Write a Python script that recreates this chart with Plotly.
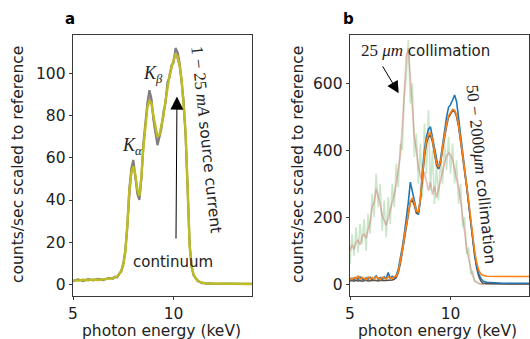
import plotly.graph_objects as go

# ---------------- data: panel a (source current series) ----------------
E_A = [5.0, 5.25, 5.5, 5.75, 6.0, 6.25, 6.5, 6.75, 7.0,
       7.1, 7.2, 7.3, 7.4, 7.5, 7.6, 7.7, 7.8, 7.9, 8.0,
       8.1, 8.2, 8.3, 8.4, 8.5, 8.6, 8.7, 8.8, 8.9, 9.0,
       9.1, 9.2, 9.3, 9.4, 9.5, 9.6, 9.7, 9.8, 9.9, 10.0,
       10.1, 10.2, 10.3, 10.4, 10.5, 10.6, 10.7, 10.8, 10.9, 11.0,
       11.1, 11.2, 11.3, 11.4, 11.5, 11.6, 11.8, 12.2, 12.6, 13.0, 13.4, 13.9]

A_PINK = [1.8, 2.1, 1.9, 2.3, 2.0, 2.4, 2.2, 2.8, 3.1,
          3.4, 3.7, 4.6, 6.8, 9.5, 15.5, 28, 43, 52, 57,
          51, 44, 41, 50, 64, 75, 85, 89, 85, 79,
          72, 68, 70, 76, 79, 88, 95, 100, 102, 107,
          110, 107, 103, 96, 85, 71, 47, 19, 8, 4.4,
          2.9, 1.7, 1.1, 0.8, 0.6, 0.5, 0.4, 0.3, 0.3, 0.3, 0.2, 0.2]

A_GRAY = [1.5, 2.4, 1.6, 2.5, 1.9, 2.6, 2.0, 3.0, 2.7,
          3.6, 3.4, 5.2, 6.0, 10, 16, 27, 45, 55, 59,
          50, 43, 40, 50, 67, 78, 86, 92, 88, 78,
          71, 66, 70, 74, 82, 86, 96, 98, 104, 105,
          112, 110, 105, 95, 87, 70, 47, 19, 8.5, 4.2,
          3.0, 1.6, 1.3, 0.6, 0.7, 0.4, 0.5, 0.2, 0.4, 0.2, 0.3, 0.2]

A_OLIVE = [2.0, 1.8, 2.2, 2.0, 2.3, 2.1, 2.4, 2.6, 3.0,
           3.3, 3.8, 4.8, 6.5, 9, 15, 28, 44, 53, 56,
           52, 45, 42, 51, 65, 76, 84, 87, 86, 80,
           74, 70, 71, 75, 80, 87, 94, 99, 103, 106,
           109, 108, 104, 97, 86, 72, 46, 18, 8, 4.5,
           2.8, 1.8, 1.2, 0.8, 0.6, 0.5, 0.4, 0.3, 0.3, 0.2, 0.2, 0.2]

# ---------------- data: panel b (collimation series) ----------------
E_B = [5.0, 5.1, 5.2, 5.3, 5.4, 5.5, 5.6, 5.7, 5.8, 5.9,
       6.0, 6.1, 6.2, 6.3, 6.4, 6.5, 6.6, 6.7, 6.8, 6.9,
       7.0, 7.1, 7.2, 7.3, 7.4, 7.5, 7.6, 7.7, 7.8, 7.9,
       8.0, 8.1, 8.2, 8.3, 8.4, 8.5, 8.6, 8.7, 8.8, 8.9,
       9.0, 9.1, 9.2, 9.3, 9.4, 9.5, 9.6, 9.7, 9.8, 9.9,
       10.0, 10.1, 10.2, 10.3, 10.4, 10.5, 10.6, 10.7, 10.8, 10.9,
       11.0, 11.1, 11.2, 11.3, 11.4, 11.5, 11.6,
       11.8, 12.2, 12.6, 13.0, 13.4, 13.9]

B_GREEN_25 = [60, 150, 85, 170, 95, 180, 120, 195, 100, 210,
              150, 270, 200, 330, 230, 300, 160, 250, 140, 260,
              180, 300, 230, 360, 290, 420, 400, 560, 620, 730,
              540, 600, 380, 450, 300, 420, 260, 480, 330, 520,
              280, 400, 240, 360, 250, 380, 300, 420, 340, 440,
              330, 420, 300, 370, 240, 300, 170, 200, 90, 110,
              30, 40, 8, 6, 2, 1, 1,
              1, 1, 1, 1, 1, 1]

B_BROWN_25 = [100, 118, 104, 126, 132, 118, 142, 150, 138, 165,
              185, 230, 245, 285, 262, 240, 205, 192, 176, 198,
              222, 240, 268, 300, 338, 385, 470, 590, 680, 705,
              610, 540, 440, 400, 350, 325, 300, 335, 305, 280,
              305, 268, 292, 258, 282, 312, 335, 362, 382, 392,
              385, 372, 342, 318, 288, 250, 200, 150, 108, 75,
              45, 25, 11, 5, 2, 1, 1,
              1, 1, 1, 1, 1, 1]

B_GRAY = [10, 11, 9, 12, 10, 11, 9, 10, 12, 10,
          11, 10, 12, 11, 10, 12, 11, 10, 11, 12,
          12, 13, 15, 20, 35, 60, 95, 135, 175, 215,
          245, 250, 235, 212, 210, 250, 320, 380, 420, 440,
          445, 425, 390, 356, 344, 360, 402, 442, 472, 498,
          510, 518, 516, 500, 470, 428, 385, 340, 290, 238,
          186, 130, 84, 48, 24, 10, 4,
          2, 1, 1, 1, 1, 1]

B_BLUE = [15, 18, 12, 20, 14, 22, 16, 12, 19, 15,
          21, 13, 18, 25, 15, 20, 14, 22, 17, 35,
          18, 24, 20, 26, 45, 75, 110, 150, 190, 245,
          305, 275, 255, 222, 208, 255, 335, 400, 440, 462,
          470, 438, 398, 366, 345, 372, 420, 462, 498, 528,
          536, 550, 565, 545, 497, 440, 395, 350, 300, 245,
          190, 135, 90, 55, 32, 18, 10,
          6, 4, 3, 3, 3, 3]

B_ORANGE = [18, 14, 20, 16, 24, 15, 21, 17, 14, 22,
            16, 20, 15, 23, 18, 14, 21, 19, 16, 22,
            20, 17, 23, 24, 38, 65, 100, 140, 180, 222,
            248, 258, 242, 218, 216, 258, 328, 388, 428, 448,
            452, 432, 396, 362, 350, 364, 408, 448, 478, 503,
            515, 522, 520, 505, 476, 435, 392, 347, 297, 247,
            196, 142, 97, 64, 42, 31, 27,
            24, 23, 23, 23, 23, 23]

X_TICKS = [5, 10]
A_Y_TICKS = [0, 20, 40, 60, 80, 100]
B_Y_TICKS = [0, 200, 400, 600]

# ---------------- figure ----------------
W, H = 530, 339
FONT = "DejaVu Sans"
SERIF = "Liberation Serif"


def px(x):
    return x / W


def py(y):
    return 1 - y / H


fig = go.Figure()

# panel a
fig.add_trace(go.Scatter(x=E_A, y=A_PINK, mode="lines", line=dict(color="#e377c2", width=1.6),
                         xaxis="x", yaxis="y", showlegend=False))
fig.add_trace(go.Scatter(x=E_A, y=A_GRAY, mode="lines", line=dict(color="#7f7f7f", width=2.2),
                         xaxis="x", yaxis="y", showlegend=False))
fig.add_trace(go.Scatter(x=E_A, y=A_OLIVE, mode="lines", line=dict(color="#bcbd22", width=2.4),
                         xaxis="x", yaxis="y", showlegend=False))

# panel b
fig.add_trace(go.Scatter(x=E_B, y=B_GREEN_25, mode="lines", line=dict(color="rgba(44,160,44,0.25)", width=1.6),
                         xaxis="x2", yaxis="y2", showlegend=False))
fig.add_trace(go.Scatter(x=E_B, y=B_BROWN_25, mode="lines", line=dict(color="rgba(200,110,100,0.45)", width=1.6),
                         xaxis="x2", yaxis="y2", showlegend=False))
fig.add_trace(go.Scatter(x=E_B, y=B_GRAY, mode="lines", line=dict(color="#5a4a44", width=1.5),
                         xaxis="x2", yaxis="y2", showlegend=False))
fig.add_trace(go.Scatter(x=E_B, y=B_BLUE, mode="lines", line=dict(color="#1f77b4", width=1.6),
                         xaxis="x2", yaxis="y2", showlegend=False))
fig.add_trace(go.Scatter(x=E_B, y=B_ORANGE, mode="lines", line=dict(color="#ff7f0e", width=1.6),
                         xaxis="x2", yaxis="y2", showlegend=False))

axis_common = dict(showline=True, mirror=True, linecolor="#222", linewidth=0.9,
                   ticks="outside", ticklen=3.5, tickwidth=0.9, tickcolor="#222",
                   showgrid=False, zeroline=False, automargin=False,
                   tickfont=dict(family=FONT, size=15.5, color="#222"))

y_dom = [py(296), py(35)]
fig.update_layout(
    template="none",
    width=W, height=H, margin=dict(l=0, r=0, t=0, b=0, pad=0), autosize=False,
    paper_bgcolor="white", plot_bgcolor="white",
    font=dict(family=FONT, color="#222"),
    xaxis=dict(domain=[px(73), px(252)], range=[5, 13.9], tickvals=X_TICKS, anchor="y", **axis_common),
    yaxis=dict(domain=y_dom, range=[-5.5, 118.2], tickvals=A_Y_TICKS, anchor="x", **axis_common),
    xaxis2=dict(domain=[px(350), px(529)], range=[5, 13.9], tickvals=X_TICKS, anchor="y2", **axis_common),
    yaxis2=dict(domain=y_dom, range=[-35, 744], tickvals=B_Y_TICKS, anchor="x2", **axis_common),
)

C = dict(xanchor="center", yanchor="middle", showarrow=False)
SER = "<span style=\"font-family:Liberation Serif;font-size:17px\">"
ann = []
# panel labels
ann.append(dict(text="<b>a</b>", x=px(70), y=py(19), xref="paper", yref="paper",
                font=dict(family=FONT, size=15, color="black"), **C))
ann.append(dict(text="<b>b</b>", x=px(348), y=py(19), xref="paper", yref="paper",
                font=dict(family=FONT, size=15, color="black"), **C))
# axis titles
for cx in (161.5, 437):
    ann.append(dict(text="photon energy (keV)", x=px(cx), y=py(330.5), xref="paper", yref="paper",
                    font=dict(family=FONT, size=15.5, color="#222"), **C))
for cx in (18, 298):
    ann.append(dict(text="counts/sec scaled to reference", x=px(cx), y=py(165), xref="paper", yref="paper",
                    textangle=-90, font=dict(family=FONT, size=15.5, color="#222"), **C))

# panel a annotations
ann.append(dict(text="<i>K</i><sub><i>α</i></sub>", x=7.94, y=65.5, xref="x", yref="y",
                font=dict(family=SERIF, size=18, color="#222"), **C))
ann.append(dict(text="<i>K</i><sub><i>β</i></sub>", x=8.98, y=99.7, xref="x", yref="y",
                font=dict(family=SERIF, size=18, color="#222"), **C))
ann.append(dict(text="continuum", x=9.98, y=10.6, xref="x", yref="y",
                font=dict(family=FONT, size=15, color="#222"), **C))
ann.append(dict(text="", x=10.17, y=89, ax=10.12, ay=21, xref="x", yref="y", axref="x", ayref="y",
                showarrow=True, arrowhead=2, arrowsize=2.6, arrowwidth=1, arrowcolor="black"))
ann.append(dict(text=SER + "1 − 25 <i>mA</i></span> source current",
                x=11.62, y=68.5, xref="x", yref="y", textangle=84,
                font=dict(family=FONT, size=15.5, color="#222"), **C))

# panel b annotations
ann.append(dict(text=SER + "25 <i>μm</i></span> collimation",
                x=8.75, y=699, xref="x2", yref="y2",
                font=dict(family=FONT, size=15, color="#222"), **C))
ann.append(dict(text="", x=7.42, y=570, ax=6.58, ay=655, xref="x2", yref="y2", axref="x2", ayref="y2",
                showarrow=True, arrowhead=2, arrowsize=2.4, arrowwidth=1, arrowcolor="black"))
ann.append(dict(text=SER + "50 − 2000<i>μm</i></span> collimation",
                x=11.55, y=329, xref="x2", yref="y2", textangle=84,
                font=dict(family=FONT, size=15.5, color="#222"), **C))

fig.update_layout(annotations=ann)
fig.write_html("out.html", config={"displayModeBar": False, "staticPlot": True},
               post_script="document.body.style.margin='0px';document.body.style.overflow='hidden';")
